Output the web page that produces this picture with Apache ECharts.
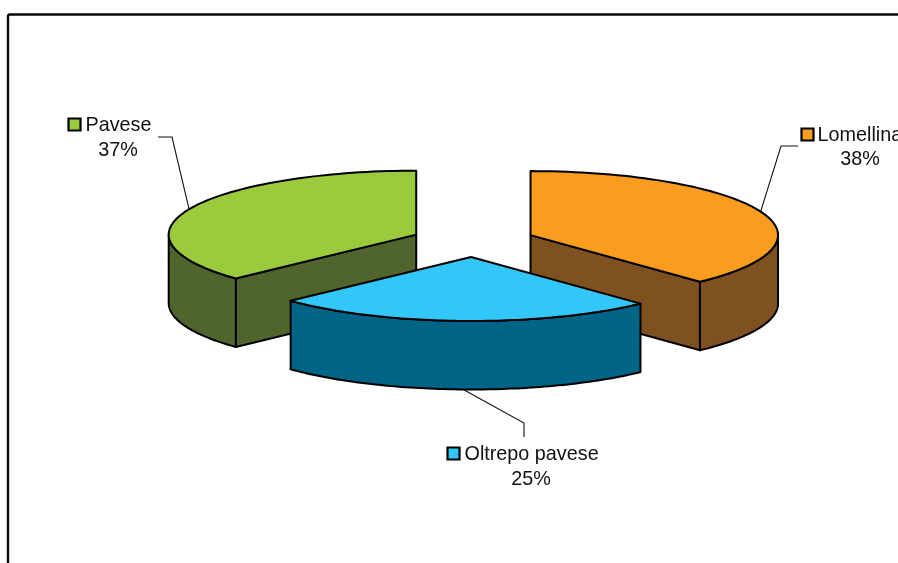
<!DOCTYPE html>
<html>
<head>
<meta charset="utf-8">
<style>html,body{margin:0;padding:0;background:#fff;overflow:hidden}#c{width:898px;height:563px}</style>
<script src="https://cdn.jsdelivr.net/npm/echarts@6/dist/echarts.min.js"></script>
</head>
<body>
<div id="c"></div>
<script>
// Data, in the drawing order of the pie (clockwise from 12 o'clock)
var categories = ['Lomellina', 'Oltrepo pavese', 'Pavese'];
var shares = [38, 25, 37];
var topColors = ['#FA9C1E', '#33C6F8', '#9BCB3C'];
var sideColors = ['#7F5020', '#006487', '#50652D'];

// Layout of the projected pie
var CX = 473, CY = 241, RX = 247.5, RY = 64, DEPTH = 68.5, EXPLODE = 0.25;
var elbows = [[781, 146, 798, 146], [524, 423, 524, 437], [172, 137, 158, 137]];
var keyPos = [[801.5, 128.5], [447.5, 447.5], [68.5, 118.5]];
var labelXY = [[817.5, 136], [464.5, 455], [85.5, 126]];
var pctXY = [[860, 160], [531, 480], [118, 151]];
var FONT = '19.8px "Liberation Sans", Arial, sans-serif';
var total = shares.reduce(function (a, b) { return a + b; }, 0);

function sliceGeom(i) {
  var before = 0;
  for (var k = 0; k < i; k++) before += shares[k];
  var a0 = before / total * 2 * Math.PI;
  var a1 = (before + shares[i]) / total * 2 * Math.PI;
  var mid = (a0 + a1) / 2;
  return {
    a0: a0, a1: a1, mid: mid,
    cx: CX + EXPLODE * RX * Math.sin(mid),
    cy: CY - EXPLODE * RY * Math.cos(mid)
  };
}
function pt(g, a, dz) {
  return [g.cx + RX * Math.sin(a), g.cy - RY * Math.cos(a) + (dz || 0)];
}
function arcPts(g, from, to, dz) {
  var n = 80, out = [];
  for (var j = 0; j <= n; j++) out.push(pt(g, from + (to - from) * j / n, dz));
  return out;
}
function poly(points, fill, z) {
  return {
    type: 'polygon', z2: z,
    shape: { points: points },
    style: { fill: fill, stroke: '#000', lineWidth: 2, lineJoin: 'round' }
  };
}
function renderSlice(params) {
  var i = params.dataIndex, g = sliceGeom(i), ch = [];
  var apex = [g.cx, g.cy], apexLow = [g.cx, g.cy + DEPTH];
  var side = sideColors[i], top = topColors[i];
  // Leader line
  var edge = pt(g, g.mid, Math.cos(g.mid) < -0.5 ? DEPTH : 0), e = elbows[i];
  ch.push({
    type: 'polyline', z2: 1,
    shape: { points: [edge, [e[0], e[1]], [e[2], e[3]]] },
    style: { fill: null, stroke: '#111', lineWidth: 1.1 }
  });
  // Radial wall facing the viewer
  var lower = Math.sin(g.a0) > 0.01 && Math.sin(g.a1) < -0.01;
  if (!lower) {
    var radial = Math.sin(g.mid) > 0 ? g.a1 : g.a0;
    ch.push(poly([apex, pt(g, radial), pt(g, radial, DEPTH), apexLow], side, 2));
  }
  // Outer wall: only the part of the rim on the near half of the ellipse
  var from = Math.max(g.a0, Math.PI / 2), to = Math.min(g.a1, 3 * Math.PI / 2);
  if (to > from) {
    ch.push(poly(arcPts(g, from, to, 0).concat(arcPts(g, to, from, DEPTH)), side, 3));
  }
  // Top face
  ch.push(poly([apex].concat(arcPts(g, g.a0, g.a1, 0)), top, 4));
  // Legend key and labels
  var k = keyPos[i];
  ch.push({
    type: 'rect', z2: 6,
    shape: { x: k[0], y: k[1], width: 12, height: 12 },
    style: { fill: top, stroke: '#000', lineWidth: 2.2 }
  });
  ch.push({
    type: 'text', z2: 6,
    style: { x: labelXY[i][0], y: labelXY[i][1], text: categories[i], fill: '#111',
      font: FONT, align: 'left', verticalAlign: 'middle' }
  });
  ch.push({
    type: 'text', z2: 6,
    style: { x: pctXY[i][0], y: pctXY[i][1], text: shares[i] + '%', fill: '#111',
      font: FONT, align: 'center', verticalAlign: 'middle' }
  });
  return { type: 'group', children: ch };
}

var chart = echarts.init(document.getElementById('c'), null, { renderer: 'canvas' });
chart.setOption({
  animation: false,
  backgroundColor: '#fff',
  graphic: [{
    type: 'rect', silent: true, z: -1,
    shape: { x: 8, y: 14.5, width: 960, height: 640, r: 2 },
    style: { fill: '#fff', stroke: '#0a0a0a', lineWidth: 2.4 }
  }],
  series: [{
    type: 'custom',
    coordinateSystem: 'none',
    silent: true,
    clip: false,
    renderItem: renderSlice,
    data: shares.map(function (v, i) { return { name: categories[i], value: v }; })
  }]
});
</script>
</body>
</html>
